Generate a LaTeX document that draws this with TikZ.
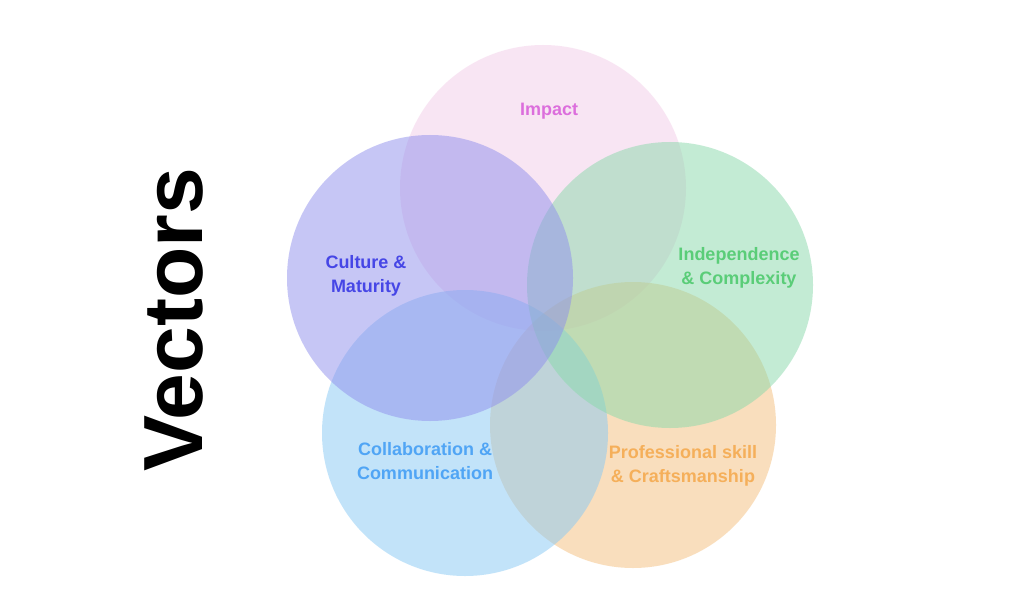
\documentclass[tikz,border=0pt]{standalone}
\usepackage{fontspec}
\setmainfont{Liberation Sans}
\usepackage{tikz}
\usetikzlibrary{positioning}

\begin{document}
\begin{tikzpicture}[x=1pt, y=-1pt, every node/.style={font=\bfseries\fontsize{18}{24}\selectfont}]
			% Define colors
			\definecolor{impact_bg}{RGB}{243, 205, 233}
			\definecolor{impact_txt}{RGB}{220, 110, 220}
			\definecolor{culture_bg}{RGB}{143, 143, 237}
			\definecolor{culture_txt}{RGB}{70, 70, 230}
			\definecolor{indep_bg}{RGB}{137, 217, 171}
			\definecolor{indep_txt}{RGB}{90, 205, 120}
			\definecolor{collab_bg}{RGB}{135, 201, 245}
			\definecolor{collab_txt}{RGB}{80, 165, 245}
			\definecolor{craft_bg}{RGB}{245, 191, 125}
			\definecolor{craft_txt}{RGB}{245, 175, 90}

			% Styles
			\tikzstyle{vector_circle} = [circle, draw=none, fill opacity=0.5, minimum size=286pt, inner sep=0pt]
			\tikzstyle{vector_label} = [align=center, inner sep=0pt]

			% Page frame
			\useasboundingbox (0, 0) rectangle (1024, 604);
			\fill[white] (0, 0) rectangle (1024, 604);

			% Circles (back to front)
			\node[vector_circle, fill=impact_bg] (impact) at (543, 188) {};
			\node[vector_circle, fill=craft_bg] (craft) at (633, 425) {};
			\node[vector_circle, fill=collab_bg] (collab) at (465, 433) {};
			\node[vector_circle, fill=indep_bg] (indep) at (670, 285) {};
			\node[vector_circle, fill=culture_bg] (culture) at (430, 278) {};

			% Labels
			\node[vector_label, text=impact_txt] (impact_lbl) at (549, 111) {Impact};
			\node[vector_label, text=culture_txt] (culture_lbl) at (366, 276) {Culture \&\\Maturity};
			\node[vector_label, text=indep_txt] (indep_lbl) at (739, 268) {Independence\\\& Complexity};
			\node[vector_label, text=collab_txt] (collab_lbl) at (425, 461) {Collaboration \&\\Communication};
			\node[vector_label, text=craft_txt] (craft_lbl) at (683, 466) {Professional skill\\\& Craftsmanship};

			% Title
			\node[font=\bfseries\fontsize{84}{90}\selectfont, rotate=90, inner sep=0pt] (title) at (174, 320) {Vectors};

		\end{tikzpicture}
\end{document}
